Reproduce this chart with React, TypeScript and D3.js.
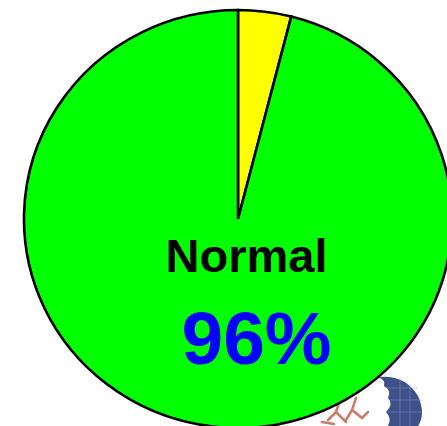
import React from "react";
import * as d3 from "d3";

// Share of results by category (percent)
const categories = ["Abnormal", "Normal"];
const values = [4, 96];
const sliceColors = ["#ffff00", "#00ff00"];
const labelledCategory = "Normal";

const W = 447;
const H = 426;
const cx = 238;
const cy = 219;
const rx = 214;
const ry = 209;

export default function App() {
  const data = categories.map((c, i) => ({ category: c, value: values[i], color: sliceColors[i] }));
  const pie = d3
    .pie<{ category: string; value: number; color: string }>()
    .sort(null)
    .value((d) => d.value);
  const arcs = pie(data);
  const arcGen = d3.arc<d3.PieArcDatum<any>>().innerRadius(0).outerRadius(rx);
  const labelled = data.find((d) => d.category === labelledCategory)!;
  const total = d3.sum(values);
  const pct = d3.format(".0%")(labelled.value / total);

  return (
    <svg
      width={W}
      height={H}
      viewBox={`0 0 ${W} ${H}`}
      style={{ position: "absolute", left: 0, top: 0, display: "block", background: "#fff" }}
    >
      {/* corner logo: globe and runners */}
      <g>
        <path
          d="M378,377 Q405,374 418,396 Q426,414 418,426 L388,426 Q392,418 386,412 Q394,404 388,398 Q392,390 384,386 Q386,380 378,377 Z"
          fill="#3f5189"
        />
        <g stroke="#8a9ac8" strokeWidth={0.8} opacity={0.6}>
          <line x1={385} y1={388} x2={418} y2={388} />
          <line x1={388} y1={400} x2={422} y2={400} />
          <line x1={388} y1={412} x2={422} y2={412} />
          <line x1={400} y1={378} x2={400} y2={426} />
          <line x1={410} y1={384} x2={410} y2={426} />
        </g>
        <g stroke="#b5503c" strokeWidth={2.5} fill="none" strokeLinecap="round" opacity={0.75}>
          <path d="M340,400 L336,412 L328,420" />
          <path d="M336,412 L346,422" />
          <path d="M356,398 L352,410 L346,420" />
          <path d="M352,410 L362,418 L368,412" />
          <path d="M322,422 L334,424" />
        </g>
      </g>

      <g transform={`translate(${cx},${cy}) scale(1,${ry / rx})`}>
        {arcs.map((a) => (
          <path
            key={a.data.category}
            d={arcGen(a) as string}
            fill={a.data.color}
            stroke="#000"
            strokeWidth={2.6}
            strokeLinejoin="miter"
            vectorEffect="non-scaling-stroke"
          />
        ))}
      </g>

      <text
        x={246.5}
        y={272}
        textAnchor="middle"
        fontFamily="'Liberation Sans', Arial, sans-serif"
        fontWeight="bold"
        fontSize={47}
        fill="#000"
      >
        {labelled.category}
      </text>
      <text
        x={256.5}
        y={364}
        textAnchor="middle"
        fontFamily="'Liberation Sans', Arial, sans-serif"
        fontWeight="bold"
        fontSize={75}
        fill="#0000ff"
      >
        {pct}
      </text>
    </svg>
  );
}
